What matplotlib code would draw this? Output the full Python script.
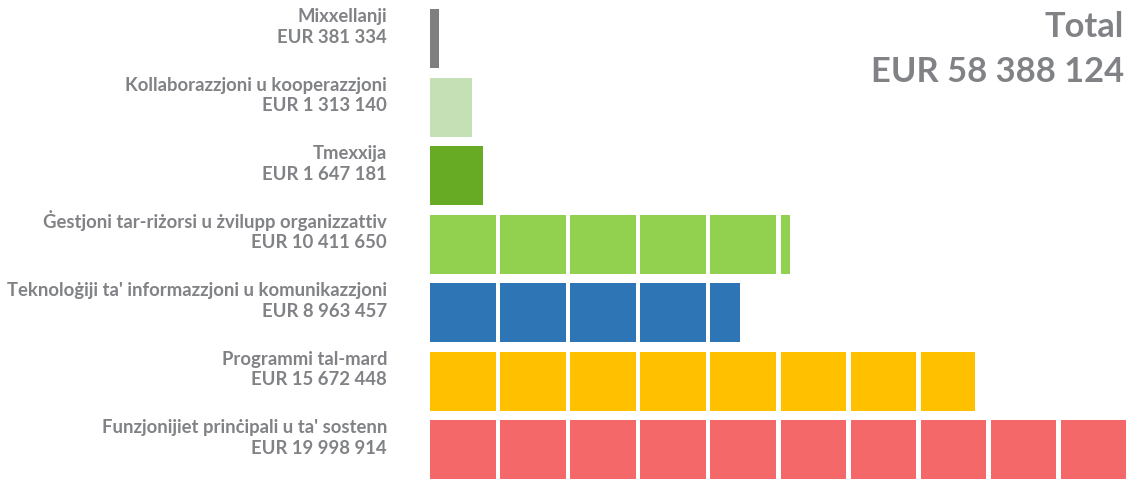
import matplotlib
matplotlib.use("Agg")
import matplotlib.pyplot as plt

categories = [
    "Mixxellanji",
    "Kollaborazzjoni u kooperazzjoni",
    "Tmexxija",
    "Ġestjoni tar-riżorsi u żvilupp organizzattiv",
    "Teknoloġiji ta' informazzjoni u komunikazzjoni",
    "Programmi tal-mard",
    "Funzjonijiet prinċipali u ta' sostenn",
]
values = [381334, 1313140, 1647181, 10411650, 8963457, 15672448, 19998914]
colors = ["#7f7f7f", "#c5e0b4", "#66ab23", "#92d050", "#2e75b6", "#ffc000", "#f4686a"]
total_label = "Total"
total_value = 58388124
block_size = 2_000_000

W, H, DPI = 1134, 481, 100
TEXT = "#808285"
FONT = ["Lato", "DejaVu Sans"]

def fmt(v):
    return "EUR " + f"{v:,}".replace(",", " ")

fig = plt.figure(figsize=(W / DPI, H / DPI), dpi=DPI)
renderer = fig.canvas.get_renderer()

def fit_size(s, target_px, base=12.0):
    t = fig.text(0, 0, s, fontsize=base, fontweight="bold", family=FONT)
    w = t.get_window_extent(renderer).width
    t.remove()
    return base * target_px / w

label_fs = fit_size(categories[4], 377)
total_fs = fit_size(fmt(total_value), 253, 24)

x0, x1 = 430, 1131
ax = fig.add_axes([x0 / W, 0, (x1 - x0) / W, 1])
ax.set_xlim(0, 10 * block_size)
pitch = 68.5
c0 = 39.5
ax.set_ylim((H - c0) / pitch, -c0 / pitch)
ax.axis("off")

gap = 4.5 / (x1 - x0) * 10 * block_size
bar_h = 59 / pitch
for i, (v, col) in enumerate(zip(values, colors)):
    start = 0
    remaining = v
    while remaining > 0:
        w = min(block_size, remaining)
        ax.barh(i, max(w - gap, gap * 0.5), left=start, height=bar_h, color=col, linewidth=0)
        start += block_size
        remaining -= block_size

for i, (name, v) in enumerate(zip(categories, values)):
    ax.annotate(name, xy=(0, i), xytext=(-43 * 0.72, 17 * 0.72), textcoords="offset points",
                ha="right", va="baseline", fontsize=label_fs, fontweight="bold", color=TEXT, family=FONT)
    ax.annotate(fmt(v), xy=(0, i), xytext=(-43 * 0.72, -3.5 * 0.72), textcoords="offset points",
                ha="right", va="baseline", fontsize=label_fs, fontweight="bold", color=TEXT, family=FONT)

fig.text(1124 / W, 1 - 37 / H, total_label, ha="right", va="baseline", fontsize=total_fs,
         fontweight="bold", color=TEXT, family=FONT)
fig.text(1124 / W, 1 - 82 / H, fmt(total_value), ha="right", va="baseline", fontsize=total_fs,
         fontweight="bold", color=TEXT, family=FONT)

fig.savefig("out.png", dpi=DPI, facecolor="white")
